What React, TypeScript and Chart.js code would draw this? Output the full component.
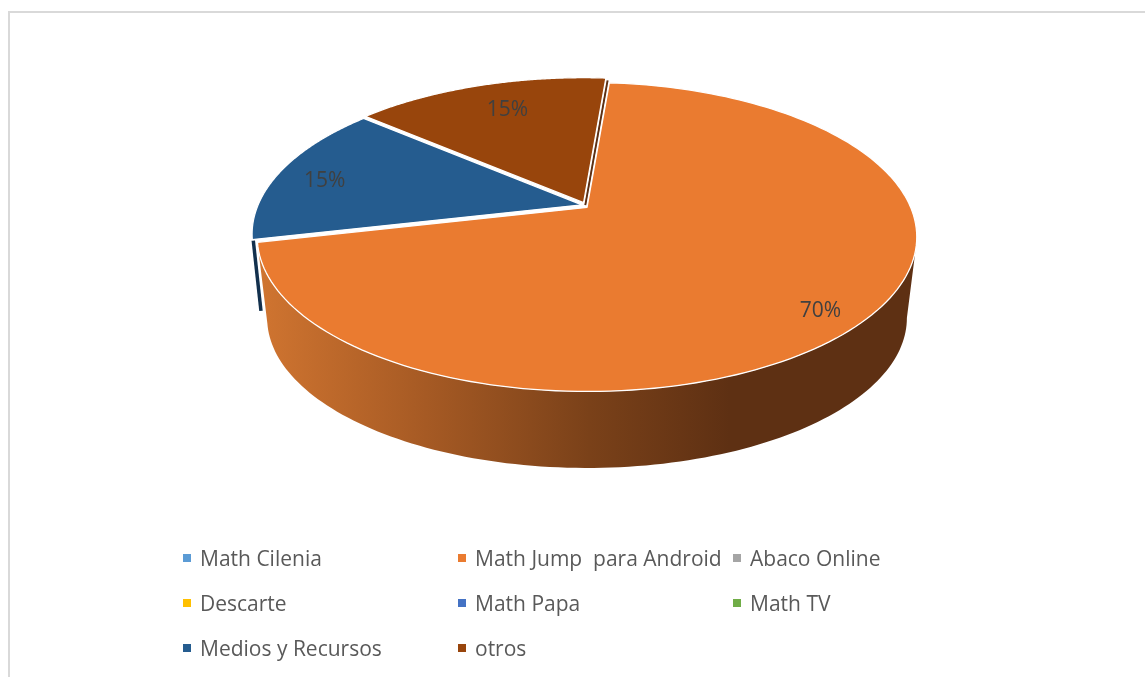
import React, { useEffect, useRef } from "react";
import { Chart, registerables } from "chart.js";

Chart.register(...registerables);

const categories = [
  "Math Cilenia",
  "Math Jump  para Android",
  "Abaco Online",
  "Descarte",
  "Math Papa",
  "Math TV",
  "Medios y Recursos",
  "otros",
];
const shares = [0, 70.1, 0, 0, 0, 0, 14.9, 15.0];
const colors = ["#5B9BD5", "#EA7B30", "#A5A5A5", "#FFC000", "#4472C4", "#70AD47", "#255C8F", "#98450C"];

// placement of the 3D pie on the page
const APEX_X = 584.75;
const APEX_Y = 205.5;
const RX = 323.7;
const RY = 148.9;
const PERSPECTIVE = -0.1908;
const DEPTH = 82;
const FLOOR_SCALE = 0.97;
const FIRST_SLICE_DEG = 4.7;
const EXPLODE = 3;
const LABEL_SPOT: Record<number, { r: number; nudge: number }> = {
  1: { r: 0.885, nudge: 3.1 },
  6: { r: 0.835, nudge: -2.6 },
  7: { r: 0.755, nudge: 1.6 },
};
const LEGEND_COLS = [183, 458, 733];
const LEGEND_ROWS = [558, 603, 648];
const FONT = '"Open Sans", sans-serif';

const project = (t: number, r: number, ox: number, oy: number, scale = 1) => {
  const den = 1 + PERSPECTIVE * r * Math.sin(t);
  return {
    x: ox + (scale * RX * r * Math.cos(t)) / den,
    y: oy + (scale * RY * r * Math.sin(t)) / den,
  };
};

const apexOf = (arc: any) => {
  const mid = (arc.startAngle + arc.endAngle) / 2;
  const off = arc.options.offset || 0;
  return { x: APEX_X + off * Math.cos(mid), y: APEX_Y + off * Math.sin(mid) };
};

const deg = (cwFromTop: number) => ((cwFromTop - 90) * Math.PI) / 180;

const pie3d = {
  id: "pie3d",
  beforeDatasetDraw() {
    return false;
  },
  afterDatasetsDraw(chart: any) {
    const ctx: CanvasRenderingContext2D = chart.ctx;
    const arcs: any[] = chart.getDatasetMeta(0).data;
    const orange = arcs[1];
    const blue = arcs[6];
    const brown = arcs[7];
    const oa = apexOf(orange);
    const ba = apexOf(blue);
    const ra = apexOf(brown);

    ctx.save();
    // sliver of the blue slice's wall at the left
    const bTop = project(blue.startAngle, 1, ba.x, ba.y);
    const bLow = project(blue.startAngle, 1, ba.x, ba.y + DEPTH, FLOOR_SCALE);
    ctx.strokeStyle = "#12304D";
    ctx.lineWidth = 3.5;
    ctx.beginPath();
    ctx.moveTo(bTop.x + 1, bTop.y + 1);
    ctx.lineTo(bTop.x + (bLow.x - bTop.x) * 0.88, bTop.y + (bLow.y - bTop.y) * 0.88);
    ctx.stroke();

    // front wall of the big slice
    const grad = ctx.createLinearGradient(262, 0, 730, 0);
    grad.addColorStop(0, "#CF7430");
    grad.addColorStop(0.35, "#A65A24");
    grad.addColorStop(0.7, "#7A4119");
    grad.addColorStop(1, "#5E3013");
    ctx.fillStyle = grad;
    ctx.beginPath();
    const steps = 120;
    const wallEnd = orange.endAngle;
    const topStart = deg(106);
    const lowStart = deg(101);
    for (let i = 0; i <= steps; i++) {
      const p = project(topStart + ((wallEnd - topStart) * i) / steps, 1, oa.x, oa.y);
      if (i === 0) ctx.moveTo(p.x, p.y);
      else ctx.lineTo(p.x, p.y);
    }
    for (let i = steps; i >= 0; i--) {
      const p = project(lowStart + ((wallEnd - lowStart) * i) / steps, 1, oa.x, oa.y + DEPTH, FLOOR_SCALE);
      ctx.lineTo(p.x, p.y);
    }
    ctx.closePath();
    ctx.fill();

    // sliver seen between the brown and orange slices
    const gapA = project(orange.startAngle, 1, (oa.x + ra.x) / 2, (oa.y + ra.y) / 2);
    ctx.strokeStyle = "#5E3013";
    ctx.lineWidth = 2;
    ctx.beginPath();
    ctx.moveTo((oa.x + ra.x) / 2, (oa.y + ra.y) / 2);
    ctx.lineTo(gapA.x, gapA.y);
    ctx.stroke();

    // top faces
    arcs.forEach((arc, i) => {
      if (arc.endAngle - arc.startAngle < 1e-4) return;
      const a = apexOf(arc);
      ctx.beginPath();
      ctx.moveTo(a.x, a.y);
      const n = 160;
      for (let j = 0; j <= n; j++) {
        const p = project(arc.startAngle + ((arc.endAngle - arc.startAngle) * j) / n, 1, a.x, a.y);
        ctx.lineTo(p.x, p.y);
      }
      ctx.closePath();
      ctx.fillStyle = colors[i];
      ctx.fill();
      ctx.strokeStyle = "#FFFFFF";
      ctx.lineWidth = 1.3;
      ctx.lineJoin = "round";
      ctx.stroke();
    });

    // percentage labels
    ctx.font = `21px ${FONT}`;
    ctx.fillStyle = "#404040";
    ctx.textAlign = "center";
    ctx.textBaseline = "middle";
    const total = shares.reduce((s, v) => s + v, 0);
    arcs.forEach((arc, i) => {
      if (!shares[i]) return;
      const a = apexOf(arc);
      const spot = LABEL_SPOT[i];
      const mid = (arc.startAngle + arc.endAngle) / 2 + (spot.nudge * Math.PI) / 180;
      const p = project(mid, spot.r, a.x, a.y);
      ctx.fillText(`${Math.round((shares[i] / total) * 100)}%`, p.x, p.y);
    });
    ctx.restore();
  },
};

export default function App() {
  const ref = useRef<HTMLCanvasElement>(null);
  useEffect(() => {
    const chart = new Chart(ref.current!, {
      type: "pie",
      data: {
        labels: categories,
        datasets: [{ data: shares, backgroundColor: colors, offset: EXPLODE }],
      },
      options: {
        responsive: false,
        animation: false,
        devicePixelRatio: 1,
        rotation: FIRST_SLICE_DEG,
        plugins: { legend: { display: false }, tooltip: { enabled: false } },
      },
      plugins: [pie3d],
    } as any);
    return () => chart.destroy();
  }, []);

  return (
    <div style={{ position: "fixed", left: 0, top: 0, width: 1145, height: 677, background: "#fff", overflow: "hidden" }}>
      <div style={{ position: "absolute", left: 8, top: 11, right: 0, height: 1.5, background: "#D9D9D9" }} />
      <div style={{ position: "absolute", left: 8, top: 11, bottom: 0, width: 2, background: "#D9D9D9" }} />
      <canvas ref={ref} width={1145} height={677} style={{ position: "absolute", left: 0, top: 0, display: "block" }} />
      {categories.map((name, i) => {
        const x = LEGEND_COLS[i % 3];
        const y = LEGEND_ROWS[Math.floor(i / 3)];
        return (
          <React.Fragment key={name}>
            <div style={{ position: "absolute", left: x, top: y - 4, width: 8, height: 8, background: colors[i] }} />
            <div
              style={{
                position: "absolute",
                left: x + 17,
                top: y - 15,
                height: 30,
                lineHeight: "30px",
                fontFamily: FONT,
                fontSize: 21,
                color: "#595959",
                whiteSpace: "pre",
              }}
            >
              {name}
            </div>
          </React.Fragment>
        );
      })}
    </div>
  );
}
